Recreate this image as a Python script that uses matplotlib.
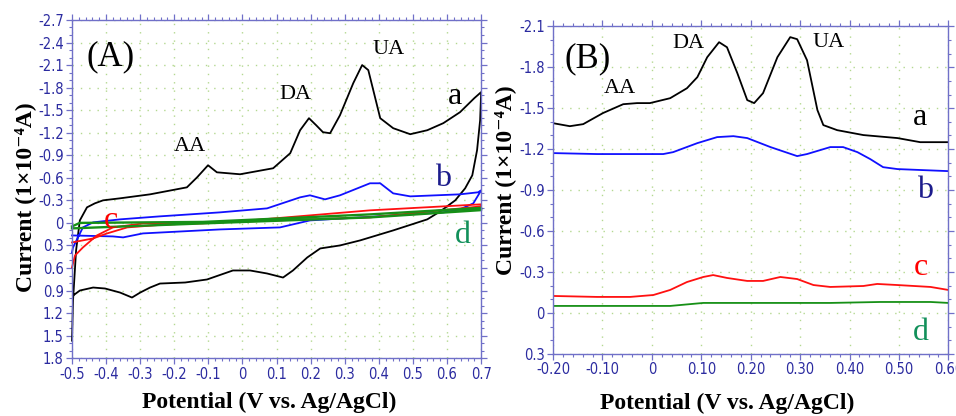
#!/usr/bin/env python

import matplotlib
matplotlib.use('Agg')
import matplotlib.pyplot as plt
import matplotlib.ticker as ticker

# ---- panel (A): cyclic voltammograms, current in 1e-4 A (anodic drawn up)
cv_a_x = [-0.500, -0.497, -0.488, -0.477, -0.456, -0.433, -0.409, -0.359, -0.271,
          -0.163, -0.133, -0.101, -0.075, -0.007, 0.090, 0.140, 0.169, 0.195,
          0.216, 0.236, 0.257, 0.286, 0.325, 0.351, 0.369, 0.404, 0.442, 0.492,
          0.542, 0.589, 0.638, 0.680, 0.700,
          0.697, 0.688, 0.674, 0.653, 0.624, 0.580, 0.542, 0.442, 0.345, 0.286,
          0.228, 0.190, 0.148, 0.119, 0.072, 0.022, -0.028, -0.104, -0.168,
          -0.242, -0.271, -0.300, -0.324, -0.359, -0.403, -0.438, -0.477, -0.497]
cv_a_y = [1.567, 1.033, 0.367, -0.033, -0.207, -0.260, -0.300, -0.327, -0.380,
          -0.473, -0.607, -0.767, -0.673, -0.647, -0.727, -0.927, -1.233, -1.393,
          -1.300, -1.207, -1.193, -1.433, -1.860, -2.100, -2.033, -1.393, -1.260,
          -1.180, -1.233, -1.327, -1.473, -1.660, -1.740,
          -1.367, -0.967, -0.633, -0.460, -0.300, -0.153, -0.047, 0.100, 0.233,
          0.300, 0.340, 0.460, 0.633, 0.727, 0.673, 0.633, 0.633, 0.753, 0.793,
          0.807, 0.860, 0.927, 0.993, 0.927, 0.873, 0.860, 0.900, 0.967]

cv_b_x = [-0.500, -0.497, -0.468, -0.438, -0.359, -0.242, -0.066, 0.072, 0.169,
          0.198, 0.242, 0.286, 0.374, 0.404, 0.442, 0.492, 0.638, 0.691, 0.700,
          0.677, 0.638, 0.589, 0.492, 0.345, 0.198, 0.110, -0.066, -0.292,
          -0.350, -0.380, -0.500]
cv_b_y = [0.393, 0.327, 0.060, -0.007, -0.047, -0.087, -0.140, -0.193, -0.340,
          -0.367, -0.313, -0.367, -0.527, -0.527, -0.393, -0.353, -0.380, -0.407,
          -0.433, -0.260, -0.180, -0.140, -0.113, -0.073, -0.033, 0.060, 0.087,
          0.140, 0.193, 0.180, 0.167]

cv_c_x = [-0.500, -0.491, -0.468, -0.427, -0.380, -0.292, -0.116, 0.022, 0.374,
          0.700, 0.700, 0.374, -0.116, -0.242, -0.338, -0.397, -0.438, -0.500]
cv_c_y = [0.593, 0.433, 0.327, 0.167, 0.060, 0.007, 0.007, -0.033, -0.167,
          -0.247, -0.220, -0.073, 0.000, 0.027, 0.060, 0.140, 0.207, 0.260]

cv_d_x = [-0.500, -0.477, -0.116, 0.374, 0.700, 0.700, 0.374, -0.116, -0.500]
cv_d_y = [0.047, 0.000, -0.013, -0.113, -0.200, -0.170, -0.073, 0.007, 0.073]

# ---- panel (B): DPV traces
dpv_a_x = [-0.200, -0.166, -0.139, -0.099, -0.058, -0.030, -0.004, 0.037, 0.071,
           0.092, 0.112, 0.136, 0.152, 0.173, 0.193, 0.207, 0.225, 0.254, 0.280,
           0.294, 0.314, 0.335, 0.347, 0.375, 0.428, 0.497, 0.543, 0.600]
dpv_a_y = [-1.390, -1.368, -1.383, -1.464, -1.529, -1.537, -1.537, -1.573, -1.646,
           -1.727, -1.873, -1.983, -1.946, -1.756, -1.559, -1.537, -1.610, -1.873,
           -2.020, -2.005, -1.851, -1.486, -1.376, -1.339, -1.303, -1.281, -1.251,
           -1.251]

dpv_b_x = [-0.200, -0.111, 0.023, 0.043, 0.092, 0.132, 0.165, 0.193, 0.240, 0.294,
           0.314, 0.361, 0.387, 0.416, 0.442, 0.468, 0.497, 0.600]
dpv_b_y = [-1.171, -1.164, -1.164, -1.178, -1.244, -1.288, -1.295, -1.281, -1.215,
           -1.149, -1.164, -1.215, -1.215, -1.178, -1.127, -1.068, -1.054, -1.039]

dpv_c_x = [-0.200, -0.111, -0.044, 0.003, 0.037, 0.071, 0.104, 0.124, 0.152, 0.193,
           0.225, 0.260, 0.294, 0.327, 0.361, 0.428, 0.456, 0.497, 0.564, 0.600]
dpv_c_y = [-0.125, -0.118, -0.118, -0.132, -0.169, -0.227, -0.264, -0.278, -0.257,
           -0.235, -0.235, -0.264, -0.249, -0.205, -0.191, -0.198, -0.213, -0.205,
           -0.191, -0.169]

dpv_d_x = [-0.200, 0.037, 0.104, 0.225, 0.361, 0.462, 0.564, 0.600]
dpv_d_y = [-0.052, -0.052, -0.074, -0.074, -0.074, -0.081, -0.081, -0.074]

curve_names = ['a', 'b', 'c', 'd']
peak_names = ['AA', 'DA', 'UA']

line_colors = ['black', '#1010ff', '#ff1010', '#169016']
label_colors = ['black', '#1c1c8c', '#ff0000', '#12905a']

SPINE = '#7070c8'
TICKC = '#2b2ba0'
GRID = '#b4d890'
SERIF = ['Liberation Serif', 'DejaVu Serif']
XLABEL = 'Potential (V vs. Ag/AgCl)'
YLABEL = 'Current (1\u00d710\u207b\u2074A)'


def fmt_factory(nd):
    def fmt(v, pos):
        if abs(v) < 1e-9:
            return '0'
        return ('%.' + str(nd) + 'f') % v
    return fmt


def style_axes(ax, xminor, yminor, xdec):
    for sp in ax.spines.values():
        sp.set_color(SPINE)
        sp.set_linewidth(1.0)
    ax.xaxis.set_major_locator(ticker.MultipleLocator(0.1))
    ax.yaxis.set_major_locator(ticker.MultipleLocator(0.3))
    ax.xaxis.set_minor_locator(ticker.AutoMinorLocator(xminor))
    ax.yaxis.set_minor_locator(ticker.AutoMinorLocator(yminor))
    ax.xaxis.set_major_formatter(ticker.FuncFormatter(fmt_factory(xdec)))
    ax.yaxis.set_major_formatter(ticker.FuncFormatter(fmt_factory(1)))
    ax.tick_params(which='both', direction='out', color=SPINE, top=True,
                   right=True, labelcolor=TICKC, labelsize=10.5, pad=2)
    ax.tick_params(which='major', length=4, width=0.9)
    ax.tick_params(which='minor', length=2, width=0.8)
    for lab in ax.get_xticklabels() + ax.get_yticklabels():
        lab.set_family('DejaVu Sans')
        lab.set_stretch('condensed')
    ax.grid(True, which='major', color=GRID, linestyle=(0, (1, 5)),
            linewidth=1.0)
    ax.set_axisbelow(True)


def put_labels(ax, panel, panel_xy, peak_xy, letter_xy):
    ax.text(panel_xy[0], panel_xy[1], panel, family=SERIF, fontsize=25,
            ha='center', va='center')
    for name, (x, y) in zip(peak_names, peak_xy):
        ax.text(x, y, name, family=SERIF, fontsize=16, ha='center',
                va='center')
    for name, (x, y), col in zip(curve_names, letter_xy, label_colors):
        ax.text(x, y, name, family=SERIF, fontsize=23, ha='center',
                va='center', color=col)


def main():
    fig = plt.figure(figsize=(9.56, 4.16), dpi=100)

    # ---- (A)
    ax1 = fig.add_axes([0.0753, 0.139, 0.428, 0.813])
    curves = [(cv_a_x, cv_a_y), (cv_b_x, cv_b_y), (cv_c_x, cv_c_y),
              (cv_d_x, cv_d_y)]
    for (xs, ys), col in zip(curves, line_colors):
        lw = 1.3
        if col == line_colors[3]:
            lw = 1.7
        ax1.plot(xs, ys, color=col, linewidth=lw, clip_on=False)
    ax1.set_xlim(-0.5, 0.7)
    ax1.set_ylim(1.8, -2.7)
    style_axes(ax1, 5, 3, 1)
    ax1.set_xlabel(XLABEL, family=SERIF, fontweight='bold', fontsize=17)
    ax1.set_ylabel(YLABEL, family=SERIF, fontweight='bold', fontsize=17)
    ax1.xaxis.set_label_coords(0.483, -0.100)
    ax1.yaxis.set_label_coords(-0.088, 0.476)

    put_labels(ax1, '(A)', (-0.386, -2.207),
               [(-0.154, -1.02), (0.154, -1.713), (0.430, -2.313)],
               [(0.624, -1.687), (0.589, -0.593), (-0.386, -0.033),
                (0.647, 0.167)])

    # ---- (B)
    ax2 = fig.add_axes([0.5785, 0.149, 0.4135, 0.788])
    curves = [(dpv_a_x, dpv_a_y), (dpv_b_x, dpv_b_y), (dpv_c_x, dpv_c_y),
              (dpv_d_x, dpv_d_y)]
    for (xs, ys), col in zip(curves, line_colors):
        ax2.plot(xs, ys, color=col, linewidth=1.3)
    ax2.set_xlim(-0.2, 0.6)
    ax2.set_ylim(0.3, -2.1)
    style_axes(ax2, 5, 3, 2)
    ax2.set_xlabel(XLABEL, family=SERIF, fontweight='bold', fontsize=17)
    ax2.set_ylabel(YLABEL, family=SERIF, fontweight='bold', fontsize=17)
    ax2.xaxis.set_label_coords(0.44, -0.118)
    ax2.yaxis.set_label_coords(-0.094, 0.53)

    put_labels(ax2, '(B)', (-0.131, -1.859),
               [(-0.064, -1.646), (0.073, -1.976), (0.357, -1.983)],
               [(0.543, -1.434), (0.553, -0.90), (0.545, -0.330),
                (0.545, 0.146)])

    fig.savefig('out.png', dpi=100)
    plt.close('all')


if __name__ == '__main__':
    main()
